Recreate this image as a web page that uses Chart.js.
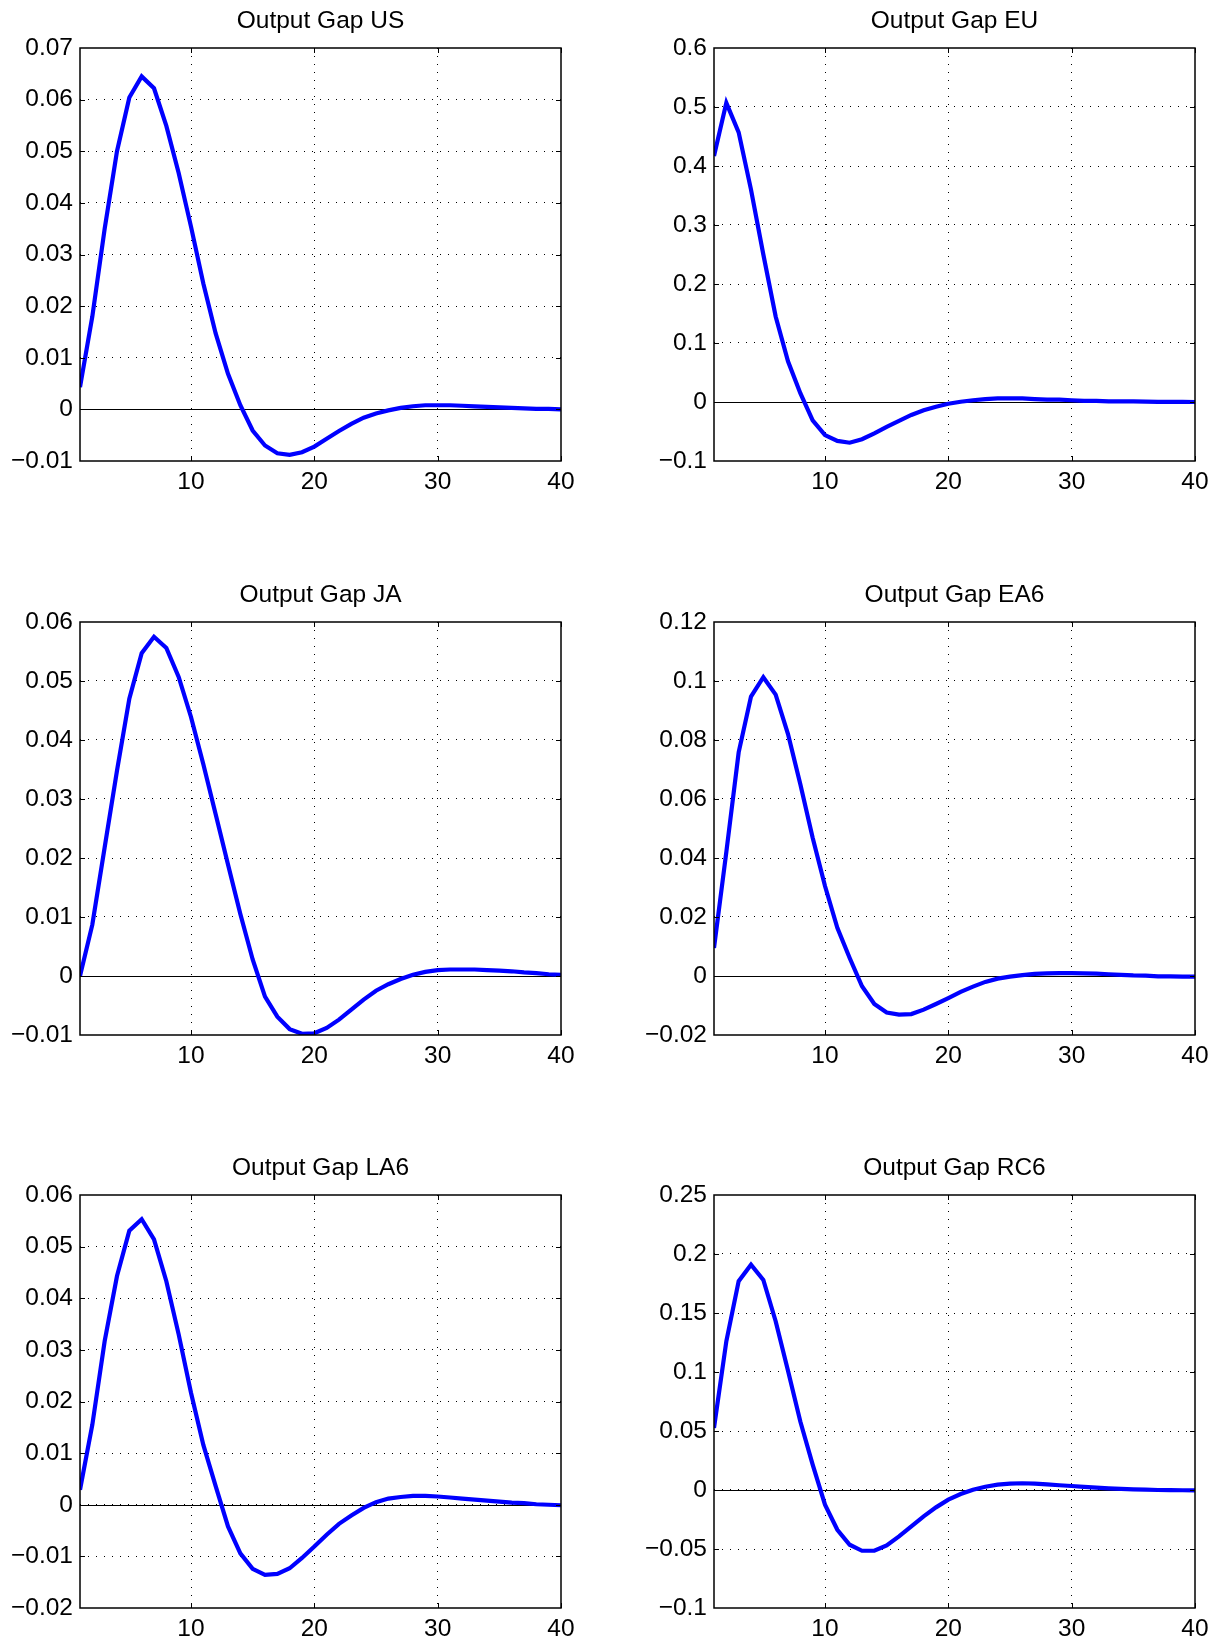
<!DOCTYPE html>
<html>
<head>
<meta charset="utf-8">
<script src="https://cdn.jsdelivr.net/npm/chart.js@4.4.1/dist/chart.umd.min.js"></script>
<style>
  html, body { margin: 0; padding: 0; background: #fff; width: 1217px; height: 1642px; overflow: hidden; }
  canvas { position: absolute; }
</style>
</head>
<body>
<script>
// impulse responses, horizon 1..40
const periods = [1, 2, 3, 4, 5, 6, 7, 8, 9, 10, 11, 12, 13, 14, 15, 16, 17, 18, 19, 20,
  21, 22, 23, 24, 25, 26, 27, 28, 29, 30, 31, 32, 33, 34, 35, 36, 37, 38, 39, 40];
const xTicks = [10, 20, 30, 40];

const gapUS = [0.0043, 0.018, 0.035, 0.050, 0.0604, 0.0645, 0.0622, 0.0549, 0.0458, 0.0354,
  0.0244, 0.0147, 0.0069, 0.0008, -0.0041, -0.0070, -0.0085, -0.0088, -0.0083, -0.0072,
  -0.0057, -0.0042, -0.0028, -0.0016, -0.0008, -0.0002, 0.0003, 0.0006, 0.0008, 0.0008,
  0.0008, 0.0007, 0.0006, 0.0005, 0.0004, 0.0003, 0.0002, 0.0001, 0.0001, 0.0000];
const gapEU = [0.417, 0.507, 0.457, 0.36, 0.25, 0.145, 0.069, 0.015, -0.031, -0.056,
  -0.066, -0.069, -0.063, -0.053, -0.042, -0.032, -0.022, -0.014, -0.008, -0.003,
  0.0005, 0.003, 0.005, 0.006, 0.006, 0.006, 0.005, 0.004, 0.004, 0.003,
  0.002, 0.002, 0.001, 0.001, 0.001, 0.0005, 0.0003, 0.0002, 0.0001, 0];
const gapJA = [0, 0.0087, 0.0218, 0.0348, 0.047, 0.0547, 0.0575, 0.0556, 0.0507, 0.0439,
  0.0359, 0.0274, 0.0189, 0.0105, 0.0028, -0.0035, -0.0069, -0.009, -0.0098, -0.0097,
  -0.0088, -0.0074, -0.0057, -0.004, -0.0025, -0.0014, -0.0005, 0.0002, 0.0007, 0.001,
  0.0011, 0.0011, 0.0011, 0.001, 0.0009, 0.0008, 0.0006, 0.0005, 0.0003, 0.0002];
const gapEA6 = [0.0095, 0.042, 0.0758, 0.0947, 0.1013, 0.0954, 0.082, 0.065, 0.0469, 0.0305,
  0.0163, 0.0061, -0.0035, -0.0095, -0.0124, -0.0131, -0.0129, -0.0114, -0.0095, -0.0075,
  -0.0054, -0.0036, -0.002, -0.0009, -0.0002, 0.0003, 0.0007, 0.0009, 0.001, 0.001,
  0.0009, 0.0008, 0.0006, 0.0004, 0.0002, 0.0001, -0.0001, -0.0001, -0.0002, -0.0002];
const gapLA6 = [0.0029, 0.0155, 0.0317, 0.0443, 0.0531, 0.0553, 0.0514, 0.0433, 0.033, 0.0217,
  0.0116, 0.0036, -0.0042, -0.0094, -0.0124, -0.0136, -0.0134, -0.0123, -0.0103, -0.0081,
  -0.0058, -0.0037, -0.0021, -0.0006, 0.0005, 0.0012, 0.0015, 0.0017, 0.0017, 0.0016,
  0.0014, 0.0012, 0.001, 0.0008, 0.0006, 0.0004, 0.0003, 0.0001, 0, -0.0001];
const gapRC6 = [0.0526, 0.126, 0.177, 0.191, 0.178, 0.143, 0.101, 0.058, 0.0215, -0.0124,
  -0.0337, -0.0464, -0.0515, -0.0515, -0.047, -0.0393, -0.0308, -0.0223, -0.0147, -0.0082,
  -0.0034, 0.0003, 0.0028, 0.0045, 0.0054, 0.0057, 0.0054, 0.0048, 0.004, 0.0034,
  0.0027, 0.002, 0.0014, 0.001, 0.0006, 0.0003, 0, -0.0001, -0.0002, -0.0003];

const ticksUS = [-0.01, 0, 0.01, 0.02, 0.03, 0.04, 0.05, 0.06, 0.07];
const ticksEU = [-0.1, 0, 0.1, 0.2, 0.3, 0.4, 0.5, 0.6];
const ticksJA = [-0.01, 0, 0.01, 0.02, 0.03, 0.04, 0.05, 0.06];
const ticksEA6 = [-0.02, 0, 0.02, 0.04, 0.06, 0.08, 0.1, 0.12];
const ticksLA6 = [-0.02, -0.01, 0, 0.01, 0.02, 0.03, 0.04, 0.05, 0.06];
const ticksRC6 = [-0.1, -0.05, 0, 0.05, 0.1, 0.15, 0.2, 0.25];

const titles = ['Output Gap US', 'Output Gap EU', 'Output Gap JA', 'Output Gap EA6', 'Output Gap LA6', 'Output Gap RC6'];
const panels = [
  { title: titles[0], values: gapUS, ticks: ticksUS },
  { title: titles[1], values: gapEU, ticks: ticksEU },
  { title: titles[2], values: gapJA, ticks: ticksJA },
  { title: titles[3], values: gapEA6, ticks: ticksEA6 },
  { title: titles[4], values: gapLA6, ticks: ticksLA6 },
  { title: titles[5], values: gapRC6, ticks: ticksRC6 }
];

// layout (pixels)
const colLeft = [0, 608], colWidth = [608, 609];
const yAxisWidth = [80, 106], padRight = [47, 22];
const rowTop = [0, 574, 1147];
const topSpace = 48, plotHeight = 413, xAxisHeight = 33;
const FONT = '"Liberation Sans", Arial, Helvetica, sans-serif';
const fontSize = 24.5;

const fmt = (v) => (Math.abs(v) < 1e-12 ? '0' : String(+v.toFixed(3)).replace('-', '\u2212'));

const frame = {
  id: 'frame',
  beforeDatasetsDraw(chart) {
    const { ctx, chartArea: a, scales: { y } } = chart;
    const y0 = Math.round(y.getPixelForValue(0)) + 0.5;
    ctx.save();
    ctx.strokeStyle = '#000';
    ctx.lineWidth = 1;
    ctx.beginPath();
    ctx.moveTo(a.left, y0);
    ctx.lineTo(a.right, y0);
    ctx.stroke();
    ctx.restore();
  },
  afterDraw(chart, args, opts) {
    const { ctx, chartArea: a, scales: { x, y } } = chart;
    const tl = 5;
    ctx.save();
    ctx.strokeStyle = '#000';
    ctx.lineWidth = 1.5;
    ctx.strokeRect(a.left, a.top, a.right - a.left, a.bottom - a.top);
    ctx.lineWidth = 1;
    ctx.beginPath();
    xTicks.forEach((v) => {
      const px = Math.round(x.getPixelForValue(v)) + 0.5;
      ctx.moveTo(px, a.bottom); ctx.lineTo(px, a.bottom - tl);
      ctx.moveTo(px, a.top); ctx.lineTo(px, a.top + tl);
    });
    (opts.ticks || []).slice(1, -1).forEach((v) => {
      const py = Math.round(y.getPixelForValue(v)) + 0.5;
      ctx.moveTo(a.left, py); ctx.lineTo(a.left + tl, py);
      ctx.moveTo(a.right, py); ctx.lineTo(a.right - tl, py);
    });
    ctx.stroke();
    ctx.fillStyle = '#000';
    ctx.font = fontSize + 'px ' + FONT;
    ctx.textAlign = 'center';
    ctx.textBaseline = 'middle';
    ctx.fillText(opts.title || '', (a.left + a.right) / 2, a.top - 27);
    ctx.restore();
  }
};

panels.forEach((p, i) => {
  const col = i % 2, row = Math.floor(i / 2);
  const canvas = document.createElement('canvas');
  canvas.width = colWidth[col];
  canvas.height = topSpace + plotHeight + xAxisHeight;
  canvas.style.left = colLeft[col] + 'px';
  canvas.style.top = rowTop[row] + 'px';
  document.body.appendChild(canvas);

  const yMin = p.ticks[0], yMax = p.ticks[p.ticks.length - 1];
  new Chart(canvas, {
    type: 'line',
    data: {
      datasets: [{
        data: periods.map((t, k) => ({ x: t, y: p.values[k] })),
        borderColor: '#0000ff',
        borderWidth: 4.2,
        pointRadius: 0,
        tension: 0,
        fill: false
      }]
    },
    options: {
      responsive: false,
      animation: false,
      devicePixelRatio: 1,
      layout: { padding: { left: 0, right: padRight[col], top: topSpace, bottom: 0 } },
      plugins: {
        legend: { display: false },
        tooltip: { enabled: false },
        title: { display: false },
        frame: { title: p.title, ticks: p.ticks }
      },
      scales: {
        x: {
          type: 'linear',
          min: 1,
          max: 40,
          afterBuildTicks: (s) => { s.ticks = xTicks.map((v) => ({ value: v })); },
          afterFit: (s) => { s.height = xAxisHeight; },
          grid: {
            drawTicks: false,
            lineWidth: 1,
            color: (c) => (c.tick && c.tick.value < 40 ? '#000' : 'rgba(0,0,0,0)')
          },
          border: { display: false, dash: [1, 7] },
          ticks: {
            padding: 7,
            color: '#000',
            maxRotation: 0,
            autoSkip: false,
            font: { family: FONT, size: fontSize },
            callback: (v) => String(v)
          }
        },
        y: {
          type: 'linear',
          min: yMin,
          max: yMax,
          afterBuildTicks: (s) => { s.ticks = p.ticks.map((v) => ({ value: v })); },
          afterFit: (s) => { s.width = yAxisWidth[col]; },
          grid: {
            drawTicks: false,
            lineWidth: 1,
            color: (c) => (c.tick && c.tick.value > yMin && c.tick.value < yMax ? '#000' : 'rgba(0,0,0,0)')
          },
          border: { display: false, dash: [1, 7] },
          ticks: {
            padding: 7,
            color: '#000',
            autoSkip: false,
            font: { family: FONT, size: fontSize },
            callback: (v) => fmt(v)
          }
        }
      }
    },
    plugins: [frame]
  });
});
</script>
</body>
</html>
